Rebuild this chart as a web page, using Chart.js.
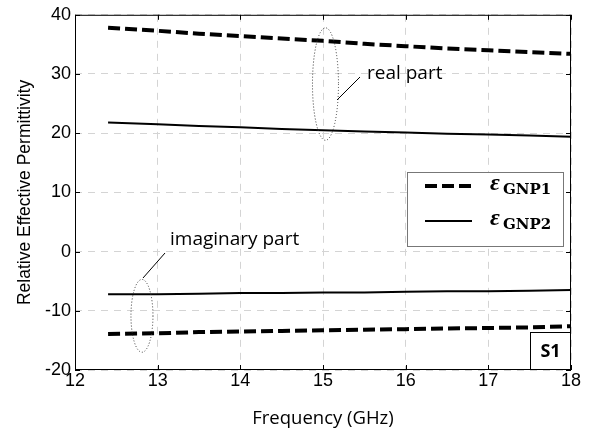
<!DOCTYPE html>
<html>
<head>
<meta charset="utf-8">
<script src="https://cdn.jsdelivr.net/npm/chart.js@4/dist/chart.umd.min.js"></script>
<style>
  html, body { margin: 0; padding: 0; background: #fff; }
  #wrap { width: 600px; height: 434px; }
</style>
</head>
<body>
<div id="wrap"><canvas id="c" width="600" height="434"></canvas></div>
<script>
// data
const freq = [12.4, 13, 13.5, 14, 14.5, 15, 15.5, 16, 16.5, 17, 17.5, 18];
const gnp1Real = [37.8, 37.3, 36.8, 36.4, 36.0, 35.6, 35.1, 34.7, 34.3, 34.0, 33.7, 33.4];
const gnp2Real = [21.8, 21.5, 21.2, 21.0, 20.7, 20.5, 20.3, 20.1, 19.9, 19.8, 19.6, 19.4];
const gnp2Imag = [-7.2, -7.2, -7.1, -7.0, -7.0, -6.9, -6.9, -6.8, -6.7, -6.7, -6.6, -6.5];
const gnp1Imag = [-13.9, -13.8, -13.6, -13.5, -13.4, -13.3, -13.2, -13.1, -13.0, -12.9, -12.8, -12.6];
const xTicks = [12, 13, 14, 15, 16, 17, 18];
const yTicks = [-20, -10, 0, 10, 20, 30, 40];

const ARIAL = "'Liberation Sans', Arial, sans-serif";
const CALIBRI = "'Open Sans', sans-serif";

const pts = arr => arr.map((v, i) => ({ x: freq[i], y: v }));
const dashStyle = { borderColor: '#000', borderWidth: 4, borderDash: [12, 5], pointRadius: 0, fill: false };
const solidStyle = { borderColor: '#000', borderWidth: 2, pointRadius: 0, fill: false };

// frame, inward ticks, annotations, legend and S1 box
const decor = {
  id: 'decor',
  afterDraw(chart) {
    const ctx = chart.ctx, a = chart.chartArea;
    const xs = chart.scales.x, ys = chart.scales.y;
    ctx.save();
    ctx.strokeStyle = '#000';
    ctx.lineWidth = 1;
    ctx.setLineDash([]);
    ctx.strokeRect(a.left + 0.5, a.top + 0.5, a.right - a.left - 1, a.bottom - a.top - 1);
    // inward ticks
    ctx.beginPath();
    xTicks.forEach(t => {
      const px = Math.round(xs.getPixelForValue(t)) + 0.5;
      ctx.moveTo(px, a.bottom); ctx.lineTo(px, a.bottom - 5);
      ctx.moveTo(px, a.top); ctx.lineTo(px, a.top + 5);
    });
    yTicks.forEach(t => {
      const py = Math.round(ys.getPixelForValue(t)) + 0.5;
      ctx.moveTo(a.left, py); ctx.lineTo(a.left + 5, py);
      ctx.moveTo(a.right, py); ctx.lineTo(a.right - 5, py);
    });
    ctx.stroke();

    // dotted ellipses
    ctx.setLineDash([1, 2]);
    ctx.strokeStyle = '#333';
    const ell = (cx, cy, top, bottom, rx) => {
      const px = xs.getPixelForValue(cx);
      const y1 = ys.getPixelForValue(top), y2 = ys.getPixelForValue(bottom);
      ctx.beginPath();
      ctx.ellipse(px, (y1 + y2) / 2, rx, (y2 - y1) / 2, 0, 0, Math.PI * 2);
      ctx.stroke();
    };
    ell(15.03, 28, 37.8, 18.8, 13);
    ell(12.81, -10.8, -4.7, -17, 11);

    // leader lines
    ctx.setLineDash([]);
    ctx.strokeStyle = '#000';
    ctx.beginPath();
    ctx.moveTo(337, 100); ctx.lineTo(360, 77);
    ctx.moveTo(143, 278); ctx.lineTo(165, 253);
    ctx.stroke();

    ctx.fillStyle = '#000';
    ctx.font = "19px " + CALIBRI;
    ctx.textBaseline = 'middle';
    ctx.fillText('real part', 367, 74);
    ctx.fillText('imaginary part', 170, 240);

    // legend
    ctx.fillStyle = '#fff';
    ctx.fillRect(407, 172, 156, 74);
    ctx.strokeStyle = '#777';
    ctx.lineWidth = 1;
    ctx.strokeRect(407.5, 172.5, 156, 74);
    const rows = [
      { ds: chart.data.datasets[0], sub: 'GNP1', y: 186 },
      { ds: chart.data.datasets[1], sub: 'GNP2', y: 221 }
    ];
    rows.forEach(r => {
      ctx.strokeStyle = r.ds.borderColor;
      ctx.lineWidth = r.ds.borderWidth;
      ctx.setLineDash(r.ds.borderDash || []);
      ctx.beginPath();
      ctx.moveTo(425, r.y); ctx.lineTo(472, r.y);
      ctx.stroke();
      ctx.setLineDash([]);
      ctx.fillStyle = '#000';
      ctx.font = "italic bold 24px 'Liberation Serif', serif";
      ctx.textBaseline = 'alphabetic';
      ctx.fillText('\u03B5', 490, r.y + 4);
      ctx.font = "bold 15px 'DejaVu Serif', serif";
      ctx.fillText(r.sub, 503, r.y + 8);
    });

    // S1 box
    ctx.fillStyle = '#fff';
    ctx.fillRect(530, 332, a.right - 530, a.bottom - 332);
    ctx.strokeStyle = '#000';
    ctx.lineWidth = 1;
    ctx.strokeRect(530.5, 332.5, a.right - 531, a.bottom - 333);
    ctx.fillStyle = '#000';
    ctx.font = "bold 18px " + CALIBRI;
    ctx.textAlign = 'center';
    ctx.textBaseline = 'middle';
    ctx.fillText('S1', (530 + a.right) / 2, 352);
    ctx.restore();
  }
};

new Chart(document.getElementById('c'), {
  type: 'line',
  data: {
    datasets: [
      Object.assign({ label: 'GNP1', data: pts(gnp1Real) }, dashStyle),
      Object.assign({ label: 'GNP2', data: pts(gnp2Real) }, solidStyle),
      Object.assign({ label: 'GNP2 imag', data: pts(gnp2Imag) }, solidStyle),
      Object.assign({ label: 'GNP1 imag', data: pts(gnp1Imag) }, dashStyle)
    ]
  },
  options: {
    responsive: false,
    animation: false,
    layout: { padding: { top: 10, right: 29, left: 0, bottom: 0 } },
    plugins: { legend: { display: false }, tooltip: { enabled: false } },
    scales: {
      x: {
        type: 'linear', min: 12, max: 18,
        afterBuildTicks: s => { s.ticks = xTicks.map(v => ({ value: v })); },
        afterFit: s => { s.height = 64; },
        ticks: { color: '#000', font: { size: 18, family: ARIAL }, padding: 0, maxRotation: 0 },
        grid: { color: '#d4d4d4', drawTicks: false, tickLength: 0 },
        border: { display: false, dash: [7, 6] },
        title: { display: true, text: 'Frequency (GHz)', color: '#000', font: { size: 18.5, family: CALIBRI }, padding: { top: 6 } }
      },
      y: {
        min: -20, max: 40,
        afterBuildTicks: s => { s.ticks = yTicks.map(v => ({ value: v })); },
        afterFit: s => { s.width = 75; },
        ticks: { color: '#000', font: { size: 18, family: ARIAL }, padding: 4 },
        grid: { color: '#d4d4d4', drawTicks: false, tickLength: 0 },
        border: { display: false, dash: [7, 6] },
        title: { display: true, text: 'Relative Effective Permittivity', color: '#000', font: { size: 17.5, family: ARIAL }, padding: { top: 15, bottom: 0 } }
      }
    }
  },
  plugins: [decor]
});
</script>
</body>
</html>
